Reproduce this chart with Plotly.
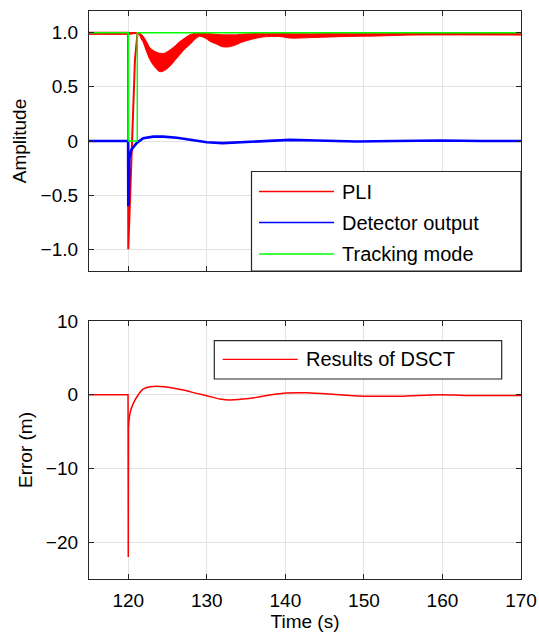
import plotly.graph_objects as go
from plotly.subplots import make_subplots

# ---------------- data ----------------
# PLI transient (centre line through the fast drop)
pli_t = [115.0, 119.97, 120.0, 120.2, 120.4, 120.6, 120.85, 121.15, 121.3]
pli_y = [1.0, 1.0, -1.0, -0.61, -0.11, 0.35, 0.75, 0.98, 1.0]

# PLI noisy band after the transient (upper / lower envelope)
band_t = [115.0, 119.97, 121.3, 121.6, 121.9, 122.3, 122.76, 123.3, 124.0, 124.6,
          125.3, 126.0, 126.6, 127.2, 127.85, 128.5, 129.1, 129.8, 130.4, 131.2,
          132.0, 132.9, 133.8, 134.2, 135.5, 137.1, 139.3, 140.6, 143.5, 147.8,
          152.0, 156.0, 170.0]
band_up = [1.0, 1.0, 1.0, 0.99, 0.966, 0.92, 0.86, 0.83, 0.81, 0.81,
           0.84, 0.88, 0.92, 0.95, 0.98, 0.995, 1.0, 1.0, 0.99, 0.985,
           0.98, 0.98, 0.98, 0.985, 0.99, 0.995, 0.995, 0.99, 0.99, 0.995,
           0.995, 1.0, 1.0]
band_lo = [0.985, 0.985, 0.99, 0.95, 0.91, 0.83, 0.75, 0.69, 0.64, 0.65,
           0.69, 0.75, 0.80, 0.85, 0.89, 0.94, 0.966, 0.95, 0.92, 0.895,
           0.87, 0.87, 0.89, 0.905, 0.935, 0.96, 0.965, 0.95, 0.955, 0.965,
           0.97, 0.978, 0.978]

# Detector output
det_t = [115.0, 119.98, 120.0, 120.05, 120.13, 120.4, 121.05, 121.9, 123.2, 124.45,
         126.2, 127.85, 130.0, 132.0, 134.6, 137.0, 140.6, 144.0, 149.0, 154.0,
         159.7, 165.0, 170.0]
det_y = [0.0, 0.0, -0.59, -0.59, -0.16, -0.08, -0.02, 0.025, 0.04, 0.04,
         0.03, 0.01, -0.012, -0.02, -0.01, 0.0, 0.01, 0.005, -0.005, 0.0,
         0.005, 0.0, 0.0]

# Tracking mode
trk_t = [115.0, 120.0, 120.0, 121.15, 121.15, 170.0]
trk_y = [1.0, 1.0, 0.0, 0.0, 1.0, 1.0]

# Error of DSCT (m)
err_t = [115.0, 119.97, 120.0, 120.03, 120.2, 120.6, 121.27, 121.9, 122.76, 124.0,
         125.3, 127.0, 128.7, 130.0, 131.7, 132.9, 134.6, 136.3, 138.0, 140.15,
         142.7, 146.9, 150.3, 154.6, 159.7, 163.0, 170.0]
err_y = [0.0, 0.0, -22.0, -4.5, -2.6, -1.27, 0.0, 0.77, 1.08, 1.13,
         0.99, 0.63, 0.18, -0.14, -0.59, -0.72, -0.59, -0.36, -0.05, 0.23,
         0.27, 0.0, -0.2, -0.2, 0.0, -0.1, -0.1]

x_ticks = [120, 130, 140, 150, 160, 170]
amp_ticks = [-1.0, -0.5, 0.0, 0.5, 1.0]
amp_text = ["−1.0", "−0.5", "0", "0.5", "1.0"]
err_ticks = [-20, -10, 0, 10]
err_text = ["−20", "−10", "0", "10"]

legend_top = ["PLI", "Detector output", "Tracking mode"]
legend_bottom = ["Results of DSCT"]

# ---------------- styling ----------------
RED = "#ff0000"
BLUE = "#0000ff"
GREEN = "#00ff00"
AX = "#262626"
GRID = "#e3e3e3"
FONT = "Liberation Sans, Arial, sans-serif"

fig = make_subplots(rows=2, cols=1, vertical_spacing=0.088)

# PLI band
fig.add_trace(go.Scatter(x=band_t, y=band_lo, mode="lines",
                         line=dict(color=RED, width=1, shape="spline", smoothing=0.8),
                         showlegend=False, hoverinfo="skip"), row=1, col=1)
fig.add_trace(go.Scatter(x=band_t, y=band_up, mode="lines",
                         line=dict(color=RED, width=1, shape="spline", smoothing=0.8),
                         fill="tonexty", fillcolor=RED, showlegend=False,
                         hoverinfo="skip"), row=1, col=1)
fig.add_trace(go.Scatter(x=pli_t, y=pli_y, mode="lines", name=legend_top[0],
                         line=dict(color=RED, width=2), showlegend=False), row=1, col=1)
fig.add_trace(go.Scatter(x=det_t, y=det_y, mode="lines", name=legend_top[1],
                         line=dict(color=BLUE, width=2.6), showlegend=False), row=1, col=1)
fig.add_trace(go.Scatter(x=trk_t, y=trk_y, mode="lines", name=legend_top[2],
                         line=dict(color=GREEN, width=1.5), showlegend=False), row=1, col=1)

# Error: sharp drop drawn straight, smooth recovery drawn as spline
fig.add_trace(go.Scatter(x=err_t[:4], y=err_y[:4], mode="lines", name=legend_bottom[0],
                         line=dict(color=RED, width=1.5), showlegend=False), row=2, col=1)
fig.add_trace(go.Scatter(x=err_t[3:], y=err_y[3:], mode="lines", name=legend_bottom[0],
                         line=dict(color=RED, width=1.5, shape="spline", smoothing=0.8),
                         showlegend=False), row=2, col=1)

axis_common = dict(showline=True, linecolor=AX, linewidth=1.2, mirror="ticks",
                   ticks="inside", ticklen=5, tickcolor=AX, tickwidth=1,
                   showgrid=True, gridcolor=GRID, gridwidth=1, zeroline=False,
                   automargin=False,
                   tickfont=dict(family=FONT, size=19, color="#000"))

fig.update_xaxes(**axis_common, range=[115, 170], tickvals=x_ticks)
fig.update_xaxes(showticklabels=False, row=1, col=1)
fig.update_xaxes(title=dict(text="Time (s)", font=dict(family=FONT, size=19, color="#000"),
                            standoff=4), ticklabelstandoff=4, row=2, col=1)
fig.update_yaxes(**axis_common)
fig.update_yaxes(range=[-1.2, 1.2], tickvals=amp_ticks, ticktext=amp_text,
                 ticklabelstandoff=6,
                 title=dict(text="Amplitude", font=dict(family=FONT, size=19, color="#000"),
                            standoff=8), row=1, col=1)
fig.update_yaxes(range=[-25, 10], tickvals=err_ticks, ticktext=err_text,
                 ticklabelstandoff=6,
                 title=dict(text="Error (m)", font=dict(family=FONT, size=19, color="#000"),
                            standoff=8), row=2, col=1)

# ---------------- manual legends (MATLAB style) ----------------
def px_x(px):
    return (px - 89) / 432.0

def px_y(py):
    return (579 - py) / 568.0

shapes = []
annotations = []
# top legend
shapes.append(dict(type="rect", xref="paper", yref="paper",
                   x0=px_x(251.5), x1=px_x(521), y0=px_y(271), y1=px_y(171.5),
                   line=dict(color=AX, width=1.2), fillcolor="white", layer="above"))
for name, col, py in zip(legend_top, [RED, BLUE, GREEN], [191.5, 222.5, 254]):
    shapes.append(dict(type="line", xref="paper", yref="paper",
                       x0=px_x(259), x1=px_x(334), y0=px_y(py), y1=px_y(py),
                       line=dict(color=col, width=1.3), layer="above"))
    annotations.append(dict(text=name, xref="paper", yref="paper", x=px_x(340), y=px_y(py),
                            xanchor="left", yanchor="middle", showarrow=False,
                            font=dict(family=FONT, size=20, color="#000")))
# bottom legend
shapes.append(dict(type="rect", xref="paper", yref="paper",
                   x0=px_x(214.3), x1=px_x(501.7), y0=px_y(379), y1=px_y(340.7),
                   line=dict(color=AX, width=1.2), fillcolor="white", layer="above"))
shapes.append(dict(type="line", xref="paper", yref="paper",
                   x0=px_x(222.7), x1=px_x(297.7), y0=px_y(359.3), y1=px_y(359.3),
                   line=dict(color=RED, width=1.3), layer="above"))
annotations.append(dict(text=legend_bottom[0], xref="paper", yref="paper", x=px_x(304),
                        y=px_y(359.3), xanchor="left", yanchor="middle", showarrow=False,
                        font=dict(family=FONT, size=20, color="#000")))

fig.update_layout(width=539, height=639, margin=dict(l=89, r=18, t=11, b=60, autoexpand=False),
                  plot_bgcolor="white", paper_bgcolor="white",
                  font=dict(family=FONT, size=19, color="#000"),
                  shapes=shapes, annotations=annotations, showlegend=False)

# domain placement
fig.update_yaxes(domain=[px_y(271), 1.0], row=1, col=1)
fig.update_yaxes(domain=[0.0, px_y(321)], row=2, col=1)

fig.write_html("out.html")
